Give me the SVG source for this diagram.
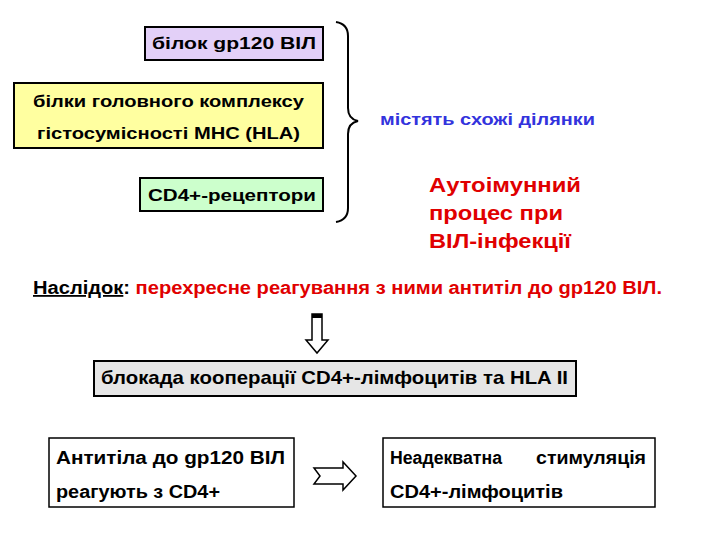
<svg xmlns="http://www.w3.org/2000/svg" width="720" height="540" viewBox="0 0 720 540">
<style>
.t{font-family:"Liberation Sans",Arial,sans-serif;font-weight:bold;font-size:16px;fill:#000}
.c{font-size:18px}
.bx{stroke:#000;stroke-width:2}
.red{fill:#E00000}
</style>
<rect width="720" height="540" fill="#fff"/>
<g id="n1"><rect class="bx" x="145" y="27" width="178" height="33" fill="#E3D0F8"/><text class="t" x="152" y="49" textLength="164" lengthAdjust="spacingAndGlyphs">білок gp120 ВІЛ</text></g>
<g id="n2"><rect class="bx" x="14" y="83" width="309" height="65" fill="#FFFFA0"/><text class="t" x="33" y="107" textLength="271" lengthAdjust="spacingAndGlyphs">білки головного комплексу</text><text class="t" x="37" y="139" textLength="263" lengthAdjust="spacingAndGlyphs">гістосумісності MHC (HLA)</text></g>
<g id="n3"><rect class="bx" x="140" y="178" width="183" height="33" fill="#CCFFCC"/><text class="t" x="148" y="201" textLength="168" lengthAdjust="spacingAndGlyphs">CD4+-рецептори</text></g>
<g id="brace"><path d="M336,22 Q348,24 348,36 L348,108 Q348,119 358,121 Q348,123 348,134 L348,208 Q348,220 336,222" fill="none" stroke="#000" stroke-width="2"/></g>
<g id="n4"><text class="t" x="380" y="125" style="fill:#3333DD" textLength="215" lengthAdjust="spacingAndGlyphs">містять схожі ділянки</text></g>
<g id="n5"><text class="t red" x="429" y="192" style="font-size:21px" textLength="152" lengthAdjust="spacingAndGlyphs">Аутоімунний</text><text class="t red" x="429" y="220" style="font-size:21px" textLength="134" lengthAdjust="spacingAndGlyphs">процес при</text><text class="t red" x="429" y="248" style="font-size:21px" textLength="142" lengthAdjust="spacingAndGlyphs">ВІЛ-інфекції</text></g>
<g id="n6"><text class="t c" x="33" y="294" textLength="629" lengthAdjust="spacingAndGlyphs"><tspan text-decoration="underline">Наслідок</tspan>: <tspan class="red">перехресне реагування з ними антитіл до gp120 ВІЛ.</tspan></text></g>
<g id="n7"><rect class="bx" x="94" y="361" width="482" height="35" fill="#E6E6E6"/><text class="t c" x="101" y="384" style="font-size:18.5px" textLength="467" lengthAdjust="spacingAndGlyphs">блокада кооперації CD4+-лімфоцитів та HLA II</text></g>
<g id="n8"><rect x="49" y="438" width="245" height="69" fill="#fff" stroke="#000" stroke-width="1.5"/><text class="t c" x="56" y="464" textLength="229" lengthAdjust="spacingAndGlyphs">Антитіла до gp120 ВІЛ</text><text class="t c" x="56" y="498" textLength="164" lengthAdjust="spacingAndGlyphs">реагують з CD4+</text></g>
<g id="n9"><rect x="383" y="438" width="272" height="69" fill="#fff" stroke="#000" stroke-width="1.5"/><text class="t c" x="390" y="464" textLength="112" lengthAdjust="spacingAndGlyphs">Неадекватна</text><text class="t c" x="536" y="464" textLength="110" lengthAdjust="spacingAndGlyphs">стимуляція</text><text class="t c" x="390" y="498" textLength="173" lengthAdjust="spacingAndGlyphs">CD4+-лімфоцитів</text></g>
<g id="connectors">
<path d="M312,314 L322,314 L322,340 L328,340 L317,353 L306,340 L312,340 Z" fill="#fff" stroke="#000" stroke-width="1.5"/>
<rect x="312" y="314" width="10" height="4" fill="#000"/>
<path d="M314,468 L343,468 L343,462 L356,476 L343,490 L343,484 L314,484 L320,476 Z" fill="#fff" stroke="#000" stroke-width="1.5"/>
</g>
</svg>
